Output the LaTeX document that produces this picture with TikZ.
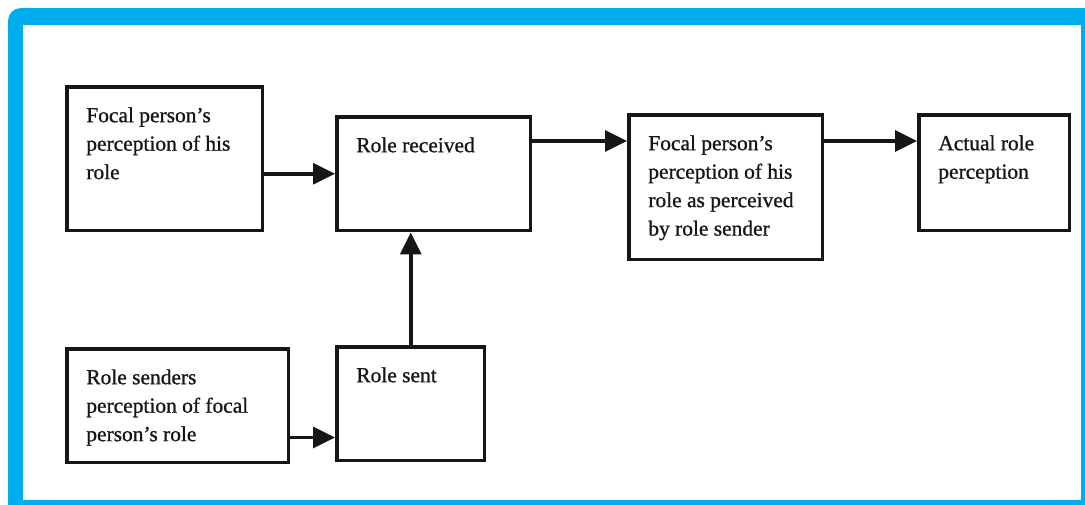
\documentclass[tikz,border=0pt]{standalone}
\usepackage{fontspec}
\setmainfont{Liberation Serif}
\newfontfamily\scanfont{Liberation Serif}[FakeBold=0.9]
\usepackage{xcolor}
\usepackage{tikz}
\usetikzlibrary{arrows.meta}
\definecolor{framecyan}{RGB}{0,174,239}
\definecolor{inkblack}{RGB}{22,22,22}

\begin{document}
\begin{tikzpicture}[
  x=0.02cm, y=-0.02cm,
  % ── node styles ──────────────────────────────────────────────────────────
  rolebox/.style={
    draw=inkblack, line width=2pt,
    rectangle, anchor=north west, inner sep=0pt,
    fill=white
  },
  % text sits in the upper left corner of each box
  boxtext/.style={
    anchor=north west, inner sep=0pt, align=left,
    xshift=0.42cm, yshift=-0.44cm,
    font=\scanfont\fontsize{12.2}{16.2}\selectfont, text=inkblack
  },
  % thick flow lines with a solid head
  flow/.style={
    draw=inkblack, line width=2pt,
    -{Triangle[length=0.44cm, width=0.42cm]}
  },
]

\useasboundingbox (0,0) rectangle (1085,504);

% ── Frame ───────────────────────────────────────────────────────────────────
\fill[white] (0,0) rectangle (1085,504);
\begin{scope}
  \clip (0,0) rectangle (1085,504);
  \fill[framecyan, rounded corners=0.26cm] (8,8) rectangle (1110,530);
\end{scope}
\fill[white] (23,25) rectangle (1081,500);

% ── Boxes, top row ──────────────────────────────────────────────────────────
\node[rolebox, minimum width=3.92cm, minimum height=2.88cm,
  label={[boxtext]north west:Focal person’s\\perception of his\\role}]
  (focal) at (65,85) {};
\node[rolebox, minimum width=3.88cm, minimum height=2.28cm,
  label={[boxtext]north west:Role received}]
  (received) at (335,115) {};
\node[rolebox, minimum width=3.88cm, minimum height=2.90cm,
  label={[boxtext]north west:Focal person’s\\perception of his\\role as perceived\\by role sender}]
  (asperc) at (627,113) {};
\node[rolebox, minimum width=3.02cm, minimum height=2.32cm,
  label={[boxtext]north west:Actual role\\perception}]
  (actual) at (917,113) {};

% ── Boxes, bottom row ───────────────────────────────────────────────────────
\node[rolebox, minimum width=4.44cm, minimum height=2.28cm,
  label={[boxtext]north west:Role senders\\perception of focal\\person’s role}]
  (senders) at (65,347) {};
\node[rolebox, minimum width=2.96cm, minimum height=2.28cm,
  label={[boxtext]north west:Role sent}]
  (sent) at (335,345) {};

% ── Flow lines ──────────────────────────────────────────────────────────────
\coordinate (toprow) at ([yshift=-0.56cm]asperc.north);
\coordinate (lowrow) at ([yshift=0.5cm]sent.south);

\draw[flow] (focal.east |- received.west) -- (received.west);
\draw[flow] (received.east |- toprow) -- (asperc.west |- toprow);
\draw[flow] (asperc.east |- toprow) -- (actual.west |- toprow);
\draw[flow] (sent.north) -- (sent.north |- received.south);
\draw[flow] (senders.east |- lowrow) -- (sent.west |- lowrow);

\end{tikzpicture}
\end{document}
